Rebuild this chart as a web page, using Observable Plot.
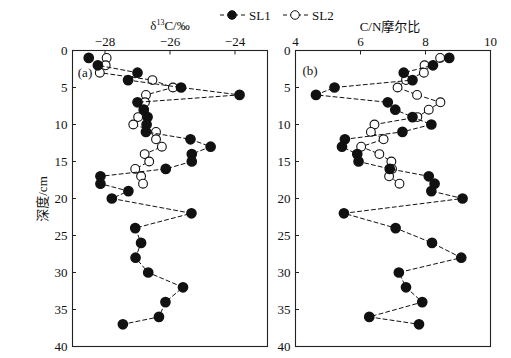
<!DOCTYPE html>
<html>
<head>
<meta charset="utf-8">
<script src="https://cdn.jsdelivr.net/npm/d3@7"></script>
<script src="https://cdn.jsdelivr.net/npm/@observablehq/plot@0.6"></script>
<style>
  html, body { margin: 0; padding: 0; background: white; }
  #wrap { position: relative; width: 511px; height: 358px; overflow: hidden; font-family: "Liberation Serif", "DejaVu Serif", serif; color: #111; }
  #wrap > svg, #wrap > .plotbox { position: absolute; top: 0; }
  .lab { position: absolute; font-size: 13px; white-space: nowrap; line-height: 1; }
  .cjk { font-family: "Liberation Serif", "Noto Sans CJK SC", serif; }
</style>
</head>
<body>
<div id="wrap"></div>
<script>
// ---- data ----
const depthSL1 = [1,2,3,4,5,6,7,8,9,10,11,12,13,14,15,16,17,18,19,20,22,24,26,28,30,32,34,36,37];
const d13C_SL1 = [-28.5,-28.22,-27.0,-27.29,-25.66,-23.86,-27.0,-26.81,-26.69,-26.72,-26.74,-25.37,-24.75,-25.33,-25.33,-26.13,-28.14,-28.14,-27.28,-27.79,-25.34,-27.07,-26.89,-27.06,-26.67,-25.6,-26.14,-26.34,-27.45];
const CN_SL1 = [8.73,8.23,7.33,7.6,5.2,4.63,6.84,7.07,7.6,8.18,7.29,5.52,5.43,5.9,5.94,6.9,8.1,8.28,8.18,9.14,5.49,7.08,8.2,9.1,7.18,7.4,7.9,6.27,7.8];
const depthSL2 = [1,2,3,4,5,6,7,8,9,10,11,12,13,14,15,16,17,18];
const d13C_SL2 = [-27.95,-27.98,-28.16,-26.54,-25.91,-26.74,-26.77,-26.8,-26.98,-27.13,-26.43,-26.43,-26.25,-26.78,-26.64,-27.07,-26.89,-26.83];
const CN_SL2 = [8.45,7.97,7.95,7.4,7.14,7.74,8.46,8.1,7.75,6.43,6.32,6.71,6.02,6.58,6.95,6.97,6.88,7.2];
const xTicksA = [-28,-26,-24];
const xTicksB = [4,6,8,10];
const yTicks = [0,5,10,15,20,25,30,35,40];
const seriesNames = ["SL1","SL2"];

const sl1A = depthSL1.map((d,i)=>({depth:d, v:d13C_SL1[i]}));
const sl2A = depthSL2.map((d,i)=>({depth:d, v:d13C_SL2[i]}));
const sl1B = depthSL1.map((d,i)=>({depth:d, v:CN_SL1[i]}));
const sl2B = depthSL2.map((d,i)=>({depth:d, v:CN_SL2[i]}));

function panel(opts) {
  const {domain, xticks, s1, s2, width, mL, mR} = opts;
  const xLen = (domain[1]-domain[0]) * 4 / (width - mL - mR);
  const yLen = 40 * 4.5 / 296;
  return Plot.plot({
    width, height: 358,
    marginLeft: mL, marginRight: mR, marginTop: 50, marginBottom: 12,
    style: {background: "transparent", fontFamily: "Liberation Serif, serif", fontSize: "13px", color: "#111", overflow: "visible"},
    x: {domain, axis: null},
    y: {domain: [0,40], reverse: true, axis: null},
    marks: [
      Plot.axisX(xticks, {anchor: "top", tickSize: 0, tickPadding: 5, label: null, tickFormat: d => d < 0 ? "\u2212" + Math.abs(d) : String(d)}),
      Plot.axisY(yTicks, {anchor: "left", tickSize: 0, tickPadding: 5, label: null}),
      Plot.ruleX(xticks, {x: d => d, y1: 0, y2: yLen, stroke: "#222"}),
      Plot.ruleY(yTicks, {y: d => d, x1: domain[0], x2: domain[0] + xLen, stroke: "#222"}),
      Plot.frame({stroke: "#222", strokeWidth: 1.1}),
      Plot.line(s2, {x: "v", y: "depth", stroke: "#111", strokeWidth: 1, strokeDasharray: "4,3"}),
      Plot.dot(s2, {x: "v", y: "depth", r: 4.4, fill: "white", stroke: "#111", strokeWidth: 1.1}),
      Plot.line(s1, {x: "v", y: "depth", stroke: "#111", strokeWidth: 1, strokeDasharray: "4,3"}),
      Plot.dot(s1, {x: "v", y: "depth", r: 4.6, fill: "#111", stroke: "#111"})
    ]
  });
}

const wrap = document.getElementById("wrap");
const pA = panel({domain: [-29,-23], xticks: xTicksA, s1: sl1A, s2: sl2A, width: 275, mL: 72, mR: 8});
pA.style.left = "0px";
const pB = panel({domain: [4,10], xticks: xTicksB, s1: sl1B, s2: sl2B, width: 256, mL: 40, mR: 21});
pB.style.left = "255px";
wrap.appendChild(pA);
wrap.appendChild(pB);

function addLabel(html, x, y, cls, extra) {
  const el = document.createElement("div");
  el.className = "lab " + (cls || "");
  el.innerHTML = html;
  el.style.left = x + "px";
  el.style.top = y + "px";
  el.style.transform = extra || "translate(-50%,-50%)";
  wrap.appendChild(el);
  return el;
}
addLabel("\u03b4<sup style='font-size:8px;vertical-align:5px'>13</sup>C/\u2030", 170, 25);
addLabel("C/N\u6469\u5c14\u6bd4", 390, 26, "cjk");
addLabel("(a)", 85, 72);
addLabel("(b)", 310, 70);
addLabel("\u6df1\u5ea6/cm", 42, 199, "cjk", "translate(-50%,-50%) rotate(-90deg)");

// legend
const leg = document.createElementNS("http://www.w3.org/2000/svg", "svg");
leg.setAttribute("width", 511); leg.setAttribute("height", 30);
leg.style.left = "0px";
const ns = "http://www.w3.org/2000/svg";
const legItems = [{name: seriesNames[0], x0: 220, fill: "#111"}, {name: seriesNames[1], x0: 283, fill: "white"}];
for (const it of legItems) {
  const ln = document.createElementNS(ns, "line");
  ln.setAttribute("x1", it.x0); ln.setAttribute("x2", it.x0 + 25);
  ln.setAttribute("y1", 15); ln.setAttribute("y2", 15);
  ln.setAttribute("stroke", "#111"); ln.setAttribute("stroke-dasharray", "4,3");
  leg.appendChild(ln);
  const c = document.createElementNS(ns, "circle");
  c.setAttribute("cx", it.x0 + 12); c.setAttribute("cy", 15); c.setAttribute("r", 4.3);
  c.setAttribute("fill", it.fill); c.setAttribute("stroke", "#111");
  leg.appendChild(c);
  const t = document.createElementNS(ns, "text");
  t.setAttribute("x", it.x0 + 29); t.setAttribute("y", 19.5);
  t.setAttribute("font-size", "13px"); t.setAttribute("font-family", "Liberation Serif, serif");
  t.setAttribute("fill", "#111");
  t.textContent = it.name;
  leg.appendChild(t);
}
wrap.appendChild(leg);
</script>
</body>
</html>
